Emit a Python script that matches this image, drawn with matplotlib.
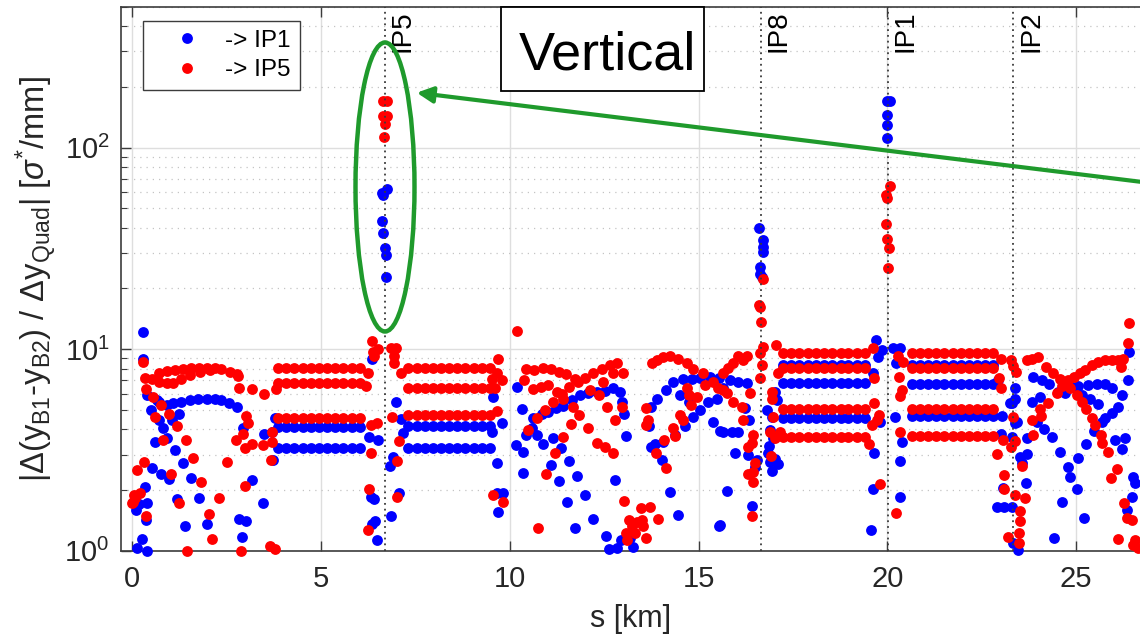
import numpy as np
import matplotlib
matplotlib.use("Agg")
import matplotlib.pyplot as plt
from matplotlib.patches import Ellipse, Rectangle
from matplotlib.ticker import LogLocator, NullFormatter
from matplotlib.lines import Line2D

plt.rcParams["font.family"] = ["Liberation Sans", "DejaVu Sans"]
plt.rcParams["mathtext.fontset"] = "custom"
plt.rcParams["mathtext.rm"] = "Liberation Sans"
plt.rcParams["mathtext.it"] = "Liberation Sans:italic"
plt.rcParams["mathtext.bf"] = "Liberation Sans:bold"
plt.rcParams["mathtext.sf"] = "Liberation Sans"
plt.rcParams["mathtext.default"] = "regular"

# ---------------------------------------------------------------- data
# quadrupole positions [km] inside the four regular arc stretches
arc_A_s = [3.86, 4.08, 4.29, 4.51, 4.73, 4.94, 5.16, 5.38, 5.59, 5.81, 6.03]
arc_B_s = [7.31, 7.53, 7.74, 7.96, 8.17, 8.39, 8.61, 8.82, 9.04, 9.25, 9.47]
arc_C_s = [17.24, 17.46, 17.67, 17.89, 18.11, 18.32, 18.54, 18.76, 18.97, 19.19, 19.41]
arc_D_s = [20.65, 20.87, 21.08, 21.30, 21.51, 21.73, 21.95, 22.16, 22.38, 22.59, 22.81]

# constant levels reached in those stretches
ip1_levels_A = [4.13, 3.22]
ip5_levels_A = [8.1, 6.8, 4.54]
ip1_levels_B = [4.15, 3.25]
ip5_levels_B = [8.1, 6.43, 4.71]
ip1_levels_C = [8.3, 6.82, 4.57]
ip5_levels_C = [9.55, 8.1, 5.03, 3.65]
ip1_levels_D = [8.3, 6.72, 4.66]
ip5_levels_D = [9.55, 8.05, 5.05, 3.71]

# remaining quadrupoles, -> IP1
ip1_s = [0.27, 0.29, 0.40, 0.48, 0.60, 0.64, 0.71, 0.80, 0.91,
         0.71, 0.91, 1.08, 1.30, 1.52, 1.74, 1.97, 2.19, 2.36, 2.56, 2.78,
         1.04, 1.13, 1.24, 1.35, 1.55, 1.17, 0.53, 0.75, 0.98, 1.77, 1.40, 1.98,
         0.09, 0.17, 0.35, 0.38, 0.33, 0.26, 0.11, 0.39,
         2.94, 2.83, 3.01, 2.90, 3.16, 3.47, 3.48, 3.73, 3.69, 3.78,
         6.27, 6.51, 6.34, 6.31, 6.40, 6.43, 6.34, 6.47,
         6.74, 6.63, 6.60, 6.62, 6.65, 6.69, 6.72, 6.71,
         6.98, 7.11, 7.18, 6.91, 6.82, 7.06, 6.85,
         9.56, 9.78, 9.52, 9.65, 9.65, 9.83, 9.69,
         10.18, 10.31, 10.16, 10.36, 10.36, 10.44, 10.58, 10.71, 10.89,
         10.62, 10.84, 11.02, 11.22, 11.42, 11.64, 11.86, 12.08, 12.30, 12.52,
         12.72, 12.92, 12.96, 11.08, 11.13, 11.30, 11.35, 11.57, 11.52, 11.77,
         11.99, 11.72, 12.19, 12.56, 12.63, 12.83, 12.94, 13.27, 13.18, 12.78,
         13.07, 13.02,
         13.73, 13.85, 14.05, 14.02, 14.24, 14.46, 13.69, 13.73, 13.89, 14.15,
         14.33, 14.59, 14.82, 15.04, 14.51, 14.75, 14.84, 15.04, 14.37, 15.37,
         15.57, 15.54, 15.26, 15.48, 14.64, 15.30, 15.55,
         15.83, 16.05, 16.27, 15.64, 16.23, 16.34, 15.65, 15.88, 16.05, 15.96,
         16.32, 16.54, 16.49, 15.74, 16.42, 15.57,
         16.61, 16.71, 16.71, 16.71, 16.63, 16.63, 16.67,
         16.80, 17.02, 17.07, 16.94, 16.89, 16.96, 16.87, 16.85, 16.89, 17.11,
         16.94, 17.02,
         19.70, 19.85, 19.76, 19.61, 19.81, 19.65, 19.61, 19.57,
         19.98, 20.07, 20.00, 20.00, 20.00,
         20.16, 20.34, 20.23, 20.20, 20.38, 20.34, 20.34,
         22.92, 23.05, 23.01, 23.38, 23.38, 23.31, 23.37, 23.31, 23.52, 23.56,
         23.69, 23.67, 22.90, 23.10, 23.31, 23.07, 23.45, 23.34, 23.25, 23.43,
         23.87, 24.09, 24.28, 24.51, 24.71, 24.89, 25.06, 25.33, 25.55, 25.77,
         25.96, 26.21, 23.83, 24.05, 25.15, 25.37, 25.58, 25.95, 25.77, 25.68,
         26.12, 26.37, 26.40, 25.48, 26.03, 26.30, 26.23, 23.69, 24.16, 24.36,
         24.58, 24.80, 24.84, 25.02, 24.62, 25.22, 24.42, 25.06, 25.26, 23.96,
         26.52, 26.56, 26.48, 26.34]
ip1_y = [12.1, 8.9, 5.9, 4.98, 3.47, 5.6, 4.45, 4.05, 3.61,
         5.49, 5.28, 5.38, 5.49, 5.59, 5.66, 5.66, 5.66, 5.59, 5.38, 5.18,
         4.45, 3.16, 4.75, 2.71, 2.29, 1.81, 2.56, 2.40, 2.26, 1.82, 1.33, 1.35,
         1.59, 1.70, 1.42, 1.73, 2.08, 1.14, 1.03, 1.0,
         4.05, 1.43, 1.40, 1.17, 2.24, 1.72, 3.78, 2.82, 3.9, 4.55,
         3.65, 3.56, 8.9, 1.85, 1.81, 1.40, 1.36, 1.13,
         62.3, 58.3, 59.8, 43.3, 37.6, 31.6, 29.3, 22.7,
         5.49, 4.49, 3.82, 2.93, 2.64, 1.93, 1.49,
         5.8, 4.32, 3.9, 2.73, 1.94, 1.93, 1.55,
         6.51, 5.03, 3.35, 3.1, 2.42, 3.75, 4.07, 3.75, 3.38,
         4.54, 4.77, 4.89, 5.09, 5.22, 5.59, 5.92, 6.03, 6.15, 6.21,
         6.39, 6.15, 5.49, 2.66, 3.61, 2.22, 3.22, 2.80, 1.75, 2.36,
         1.9, 1.29, 1.43, 1.18, 1.02, 1.03, 1.13, 1.04, 1.16, 2.24,
         3.72, 4.77,
         3.28, 3.4, 3.47, 2.82, 1.96, 1.50, 4.16, 5.15, 5.68, 6.27,
         6.9, 7.1, 7.1, 7.16, 5.92, 5.49, 4.6, 4.99, 3.75, 4.37,
         3.92, 1.33, 5.49, 5.68, 4.16, 7.3, 7.2,
         7.03, 6.9, 6.8, 6.39, 5.09, 4.45, 3.9, 3.9, 3.87, 3.06,
         2.98, 2.82, 2.61, 1.98, 1.67, 1.34,
         39.8, 34.9, 32.2, 30.4, 25.7, 23.7, 22.9,
         4.99, 6.15, 5.59, 4.6, 3.97, 3.61, 3.3, 3.04, 2.77, 2.69,
         2.49, 2.84,
         11.1, 9.9, 9.1, 7.58, 4.37, 3.06, 2.02, 1.27,
         170.6, 170.6, 145.0, 130.0, 112.0,
         10.1, 10.1, 8.5, 4.6, 3.47, 2.8, 1.84,
         7.03, 4.66, 3.81, 6.39, 5.68, 5.38, 4.3, 3.65, 2.93, 2.71,
         3.02, 2.17, 1.65, 1.65, 1.65, 2.05, 1.01, 1.09, 5.38, 4.37,
         7.27, 7.03, 6.72, 6.15, 6.03, 6.51, 6.56, 6.64, 6.72, 6.72,
         6.39, 5.92, 5.49, 5.78, 5.92, 5.63, 5.32, 4.8, 4.54, 4.37,
         5.18, 7.03, 9.7, 3.92, 3.54, 3.61, 3.18, 3.61, 4.0, 3.65,
         3.1, 2.61, 2.33, 2.02, 1.75, 1.45, 1.16, 2.87, 3.4, 4.37,
         2.33, 2.16, 1.85, 1.6]

# remaining quadrupoles, -> IP5
ip5_s = [0.27, 0.33, 0.51, 0.36, 0.55, 0.75, 0.60, 0.98, 1.19, 0.82, 1.41,
         1.61, 1.83, 1.02, 1.24, 2.03, 2.10, 1.45, 2.29, 2.51, 0.11, 0.30,
         0.04, 0.20, 0.02, -0.02, 0.07, 0.35, 2.74, 2.98, 3.18, 3.01, 3.07,
         2.94, 2.99, 2.83, 3.17, 3.49, 3.80, 3.47, 3.71, 3.67, 3.69, 2.89,
         3.64, 3.78,
         0.71, 0.91, 1.13, 1.33, 1.54, 1.76, 1.97, 2.19, 2.36, 2.58, 2.78,
         0.71, 0.91, 1.08, 1.30, 1.52, 1.79, 2.05, 2.80,
         6.65, 6.75, 6.65, 6.74, 6.69, 6.66,
         6.23, 6.19, 6.32, 6.47, 6.36, 6.38, 6.51, 6.40, 6.32, 6.27, 6.23,
         6.84, 6.98, 6.93, 6.93, 7.11, 6.87, 7.05, 7.00, 7.02,
         9.69, 9.65, 9.78, 9.52, 9.61, 9.65, 9.56, 9.81, 10.20,
         10.37, 10.44, 10.64, 10.87, 11.08, 11.31, 11.50, 11.72, 11.99, 12.21,
         12.43, 12.65, 12.85, 13.00, 12.74,
         10.60, 10.82, 11.02, 11.24, 11.42, 11.66, 11.84, 12.08, 12.32, 12.52,
         12.74,
         10.49, 10.71, 10.93, 11.15, 11.37, 11.57, 11.81, 12.12, 12.37, 12.47,
         12.58, 12.78, 12.96,
         11.40, 11.20, 10.97, 11.61, 10.75,
         13.02, 13.47, 13.71, 13.49, 13.54, 13.16, 13.09, 13.11, 13.23, 13.93,
         13.61, 13.36, 13.31,
         13.62, 13.67, 13.61, 13.87, 14.14, 14.08, 14.31, 14.37,
         13.76, 13.89, 14.06, 14.24, 14.46, 14.68, 14.86, 15.11,
         14.68, 14.75, 14.79, 14.51, 14.58, 14.95,
         15.17, 15.39, 15.52,
         15.65, 15.79, 15.92, 16.05, 16.27, 16.18, 15.74, 15.92, 16.14, 16.18,
         16.36, 15.64, 16.45, 16.41, 16.32, 16.49, 16.45, 16.32, 16.44, 16.42,
         16.61, 16.65, 16.70, 16.63, 16.71, 16.63, 16.67, 16.63,
         17.05, 17.11, 16.94, 16.94, 16.98, 16.89, 17.16, 17.02, 16.91,
         19.61, 19.65, 19.65, 19.79, 19.72, 19.59, 19.52, 19.81,
         20.07, 19.96, 19.98, 19.96, 19.98, 20.05, 20.03,
         20.29, 20.41, 20.32, 20.38, 20.34, 20.34, 20.23,
         23.01, 22.96, 23.01, 22.90, 23.10, 23.10, 23.07, 23.28, 23.34, 23.40,
         23.34, 23.37, 23.28, 23.58, 23.37, 23.65, 23.52, 23.52, 23.49, 23.49,
         23.19,
         23.69, 23.83, 23.99,
         24.20, 24.40, 24.58, 24.71, 24.84, 25.02, 25.15, 25.26, 25.43, 25.50,
         25.66, 25.70, 25.86,
         23.83, 24.07, 24.05, 24.27, 24.49, 24.62, 24.80, 24.95, 25.11, 25.24,
         25.42, 25.59, 25.77, 25.95, 26.12, 26.25, 26.19,
         23.87, 26.40, 26.37, 26.08, 25.93, 26.28, 26.34, 26.48, 26.12, 26.56,
         26.65, 26.52]
ip5_y = [8.66, 7.16, 7.1, 6.35, 5.8, 5.28, 4.59, 4.75, 4.16, 3.54, 3.54,
         2.89, 2.18, 2.40, 1.72, 1.52, 1.14, 1.0, 1.83, 2.77, 2.51, 2.77,
         1.89, 1.94, 1.75, 1.72, 1.82, 1.48, 3.56, 3.22, 3.37, 4.68, 4.32,
         3.78, 2.09, 6.39, 6.32, 6.0, 6.35, 3.35, 3.47, 2.82, 3.9, 1.0,
         1.05, 1.02,
         7.65, 7.8, 7.89, 7.98, 8.03, 8.1, 8.03, 8.1, 7.98, 7.74, 7.55,
         6.9, 6.8, 6.8, 7.1, 7.45, 7.74, 7.89, 7.35,
         169.9, 169.9, 144.0, 144.0, 131.0, 112.9,
         7.58, 6.56, 4.19, 4.3, 11.0, 9.7, 9.98, 9.2, 3.04, 2.02, 1.27,
         10.1, 10.1, 9.2, 8.5, 7.58, 4.6, 3.5, 2.8, 1.84,
         8.93, 7.58, 7.03, 7.1, 6.39, 4.95, 1.89, 1.75, 12.3,
         7.03, 7.93, 7.89, 8.03, 7.93, 7.74, 7.5, 7.1, 7.23, 7.58,
         7.93, 8.35, 8.5, 7.58, 7.65,
         6.32, 6.51, 6.64, 6.15, 5.63, 5.15, 4.71, 4.05, 3.44, 3.28,
         3.04,
         3.97, 4.54, 4.99, 5.49, 5.99, 6.51, 6.9, 6.27, 5.92, 6.9,
         5.18, 4.45, 5.15,
         3.65, 3.04, 2.39, 4.25, 1.30,
         1.76, 1.62, 1.65, 1.42, 1.32, 1.42, 1.22, 1.13, 1.32, 1.43,
         1.15, 1.39, 1.22,
         5.09, 4.45, 4.2, 3.06, 2.58, 3.54, 4.05, 3.71,
         8.56, 8.84, 9.1, 9.2, 8.9, 8.56, 7.93, 7.58,
         6.39, 5.92, 5.28, 4.71, 4.45, 5.78,
         6.64, 6.9, 6.39,
         7.58, 8.03, 8.5, 9.2, 9.2, 8.84, 6.03, 5.49, 5.15, 4.45,
         6.03, 6.27, 3.75, 3.44, 3.28, 2.71, 2.47, 2.40, 2.18, 1.49,
         16.6, 13.7, 22.4, 16.2, 10.3, 9.55, 8.35, 7.16,
         10.5, 7.58, 6.15, 5.68, 4.6, 3.9, 3.9, 3.61, 2.95,
         10.1, 7.2, 5.38, 4.71, 4.45, 4.2, 3.4, 2.15,
         64.3, 58.2, 56.1, 41.9, 35.1, 31.7, 25.2,
         9.2, 8.66, 7.27, 6.27, 5.86, 3.9, 1.54,
         8.93, 7.2, 6.39, 3.02, 2.37, 2.02, 3.56, 8.84, 8.25, 7.74,
         4.6, 3.51, 3.28, 2.63, 1.89, 1.82, 1.58, 1.41, 1.22, 1.09,
         1.17,
         8.84, 8.9, 9.1,
         8.19, 7.58, 7.1, 6.8, 6.39, 5.92, 5.49, 5.03, 4.54, 4.2,
         3.75, 3.44, 3.1,
         4.45, 4.66, 5.03, 5.43, 6.03, 6.56, 7.03, 7.27, 7.58, 7.89,
         8.35, 8.66, 8.84, 8.79, 8.84, 8.9, 8.19,
         3.75, 13.5, 10.7, 2.53, 2.29, 1.72, 1.45, 1.42, 1.14, 1.13,
         1.03, 1.07]

# interaction points
ip_names = ["IP5", "IP8", "IP1", "IP2"]
ip_pos = [6.69, 16.65, 20.01, 23.34]

x_ticks = [0, 5, 10, 15, 20, 25]
legend_labels = ["-> IP1", "-> IP5"]


def with_arcs(s_list, y_list, arcs):
    s_all = list(s_list)
    y_all = list(y_list)
    for positions, levels in arcs:
        for level in levels:
            s_all.extend(positions)
            y_all.extend([level] * len(positions))
    return np.array(s_all), np.array(y_all)


b_s, b_y = with_arcs(ip1_s, ip1_y, [(arc_A_s, ip1_levels_A), (arc_B_s, ip1_levels_B),
                                    (arc_C_s, ip1_levels_C), (arc_D_s, ip1_levels_D)])
r_s, r_y = with_arcs(ip5_s, ip5_y, [(arc_A_s, ip5_levels_A), (arc_B_s, ip5_levels_B),
                                    (arc_C_s, ip5_levels_C), (arc_D_s, ip5_levels_D)])

# ---------------------------------------------------------------- figure
W, H = 1140, 636
fig = plt.figure(figsize=(W / 100, H / 100), dpi=100)
ax = fig.add_axes([120.7 / W, 85.3 / H, (1140.2 - 120.7) / W, 544.0 / H])

ax.set_yscale("log")
ax.set_xlim(-0.31, 26.70)
ax.set_ylim(1, 500)

ms = 7.8
ax.plot(b_s, b_y, ls="none", marker="o", ms=ms, mfc="#0000ff", mec="none",
        zorder=3, clip_on=False)
ax.plot(r_s, r_y, ls="none", marker="o", ms=ms, mfc="#ff0000", mec="none",
        zorder=3, clip_on=False)

# grid
ax.set_axisbelow(True)
ax.set_xticks(x_ticks)
ax.yaxis.set_major_locator(LogLocator(base=10))
ax.yaxis.set_minor_locator(LogLocator(base=10, subs=np.arange(2, 10)))
ax.yaxis.set_minor_formatter(NullFormatter())
ax.grid(True, which="major", color="#dedede", lw=1.0, ls="-")
ax.grid(True, which="minor", axis="y", color="#c4c4c4", lw=0.9, ls=(0, (1, 4)))

for sp in ["left", "bottom", "top"]:
    ax.spines[sp].set_color("#3c3c3c")
    ax.spines[sp].set_linewidth(1.2)
ax.spines["right"].set_visible(False)

ax.tick_params(which="both", direction="in", top=True, right=False,
               colors="#3c3c3c", labelcolor="#262626")
ax.tick_params(which="major", length=7, width=1.0, labelsize=21, pad=8)
ax.tick_params(axis="x", which="major", pad=10)
ax.tick_params(which="minor", length=4, width=0.8)
ax.tick_params(axis="x", which="minor", bottom=False, top=False)

ax.set_xlabel("s [km]", fontsize=22, color="#262626", labelpad=8)
ax.set_ylabel(r"|$\Delta$(y$_{B1}$-y$_{B2}$) / $\Delta$y$_{Quad}$| [$\mathit{\sigma}^{*}$/mm]",
              fontsize=23.5, color="#262626", labelpad=4)

# interaction point markers
for name, pos in zip(ip_names, ip_pos):
    ax.axvline(pos, color="#3a3a3a", lw=1.3, ls=(0, (1, 2.2)), zorder=4)
    ax.annotate(name, xy=(pos, 1.0), xycoords=("data", "axes fraction"),
                xytext=(3.5, -3), textcoords="offset points", rotation=90,
                ha="left", va="top", fontsize=20, color="black", zorder=5)

# legend
handles = [Line2D([], [], ls="none", marker="o", ms=ms, mfc=c, mec="none")
           for c in ["#0000ff", "#ff0000"]]
leg = ax.legend(handles, legend_labels, loc="upper left",
                bbox_to_anchor=((143 - 120.7) / 1019.5, (550.7 - 20.7) / 544.0),
                borderaxespad=0, fontsize=17.5, handlelength=2.9, handletextpad=0.1,
                borderpad=0.38, labelspacing=0.3, fancybox=False, framealpha=1,
                edgecolor="#3c3c3c")
leg.get_frame().set_linewidth(1.0)
leg.set_zorder(6)

# title box
fig.patches.append(Rectangle((500.7 / W, (H - 90.7) / H), 203.6 / W, 83.4 / H,
                             transform=fig.transFigure, fill=True, fc="white",
                             ec="black", lw=1.3, zorder=6))
fig.text(607.5 / W, (H - 70.0) / H, "Vertical", ha="center", va="baseline",
         fontsize=39, color="black", zorder=7)

# highlight of the IP5 peak
green = "#1f9a2c"
fig.patches.append(Ellipse((385.0 / W, (H - 187.0) / H), 59.0 / W, 289.0 / H,
                           transform=fig.transFigure, fill=False, ec=green,
                           lw=3.2, zorder=8))
ax.annotate("", xy=(416.7, H - 92.7), xycoords="figure pixels",
            xytext=(1165.0, H - 184.8), textcoords="figure pixels",
            arrowprops=dict(arrowstyle="-|>", color=green, lw=3.0,
                            mutation_scale=24, shrinkA=0, shrinkB=0),
            annotation_clip=False, zorder=8)

fig.savefig("out.png", dpi=100)
